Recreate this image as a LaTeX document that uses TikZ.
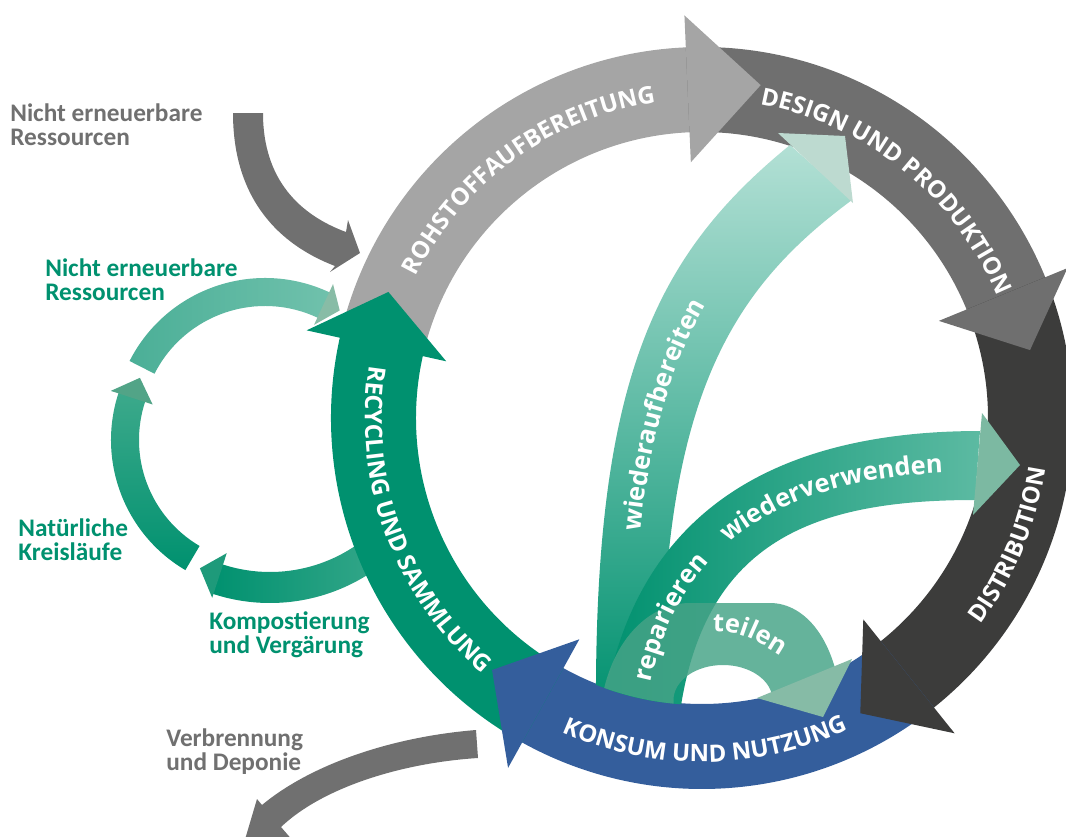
\documentclass[tikz,border=0pt]{standalone}
\usepackage{fontspec}
\setmainfont{Carlito}
\newfontfamily\bandfont{Open Sans}
\usetikzlibrary{calc,decorations.text}

\definecolor{rohC}{HTML}{A5A5A5}
\definecolor{desC}{HTML}{6F6F6F}
\definecolor{disC}{HTML}{3C3C3B}
\definecolor{konC}{HTML}{345E9C}
\definecolor{recC}{HTML}{00916F}
\definecolor{inGray}{HTML}{707070}
\definecolor{labGreen}{HTML}{00916F}
\definecolor{wabLight}{HTML}{B3E0D5}
\definecolor{wabHead}{HTML}{BDDAD0}
\definecolor{wvLight}{HTML}{5CBAA2}
\definecolor{wvHead}{HTML}{7CB9A2}
\definecolor{teilC}{RGB}{70,163,135}
\definecolor{teilHead}{HTML}{86BBA6}
\definecolor{topA}{HTML}{4BAF97}
\definecolor{topB}{HTML}{70C1AC}
\definecolor{topHead}{HTML}{88BCA6}
\definecolor{leftA}{HTML}{3CA98B}
\definecolor{leftHead}{HTML}{52A487}
\definecolor{botA}{HTML}{3AA98C}
\definecolor{botHead}{HTML}{1E9A7A}

\def\rin{286}
\def\rout{371}
% ring band: start angle, end angle, colour
\newcommand\ringband[3]{\fill[#3] ($(C)+(#1:\rin)$) arc[start angle=#1, end angle=#2, radius=\rin] -- ($(C)+(#2:\rout)$) arc[start angle=#2, end angle=#1, radius=\rout] -- cycle;}
% arrow head: base angle, tip angle, inner r, outer r, tip r, colour, centre
\newcommand\arrhead[7]{\fill[#6] ($(#7)+(#1:#3)$) -- ($(#7)+(#2:#5)$) -- ($(#7)+(#1:#4)$) -- cycle;}
% curved text on ring
\newcommand\ringtext[4]{\path[decorate, decoration={text along path, text={|\bandfont\bfseries\fontsize{13.6}{13.6}\selectfont|#4}, text color=white, text align=center}] ($(C)+(#1:#3)$) arc[start angle=#1, end angle=#2, radius=#3];}

\tikzset{
  lab/.style={font=\bfseries\fontsize{14.4}{13.6}\selectfont, align=left, inner sep=0pt, anchor=north west},
  innertxt/.style={decorate, decoration={text along path, text color=white}}
}

\begin{document}
\begin{tikzpicture}[x=0.02cm, y=-0.02cm]
\useasboundingbox (0,0) rectangle (1066,836);
\clip (0,0) rectangle (1066,836);
\coordinate (C) at (702,418);
\coordinate (T) at (265,430);
\coordinate (L) at (262,440);
\coordinate (B) at (270,420);

% ---------- small natural cycle ----------
\shade[left color=recC, right color=botA] ($(B)+(45:152)$) arc[start angle=45, end angle=108.5, radius=152] -- ($(B)+(108.5:183)$) arc[start angle=108.5, end angle=45, radius=183] -- cycle;
\arrhead{108}{115.3}{140}{187}{164}{botHead}{B}
\shade[top color=leftA, bottom color=recC] ($(L)+(120.5:123)$) arc[start angle=120.5, end angle=198.5, radius=123] -- ($(L)+(198.5:151)$) arc[start angle=198.5, end angle=120.5, radius=151] -- cycle;
\arrhead{198}{207}{115}{159}{137}{leftHead}{L}
\shade[left color=topA, right color=topB] ($(T)+(-153:124)$) arc[start angle=-153, end angle=-64.5, radius=124] -- ($(T)+(-64.5:152)$) arc[start angle=-64.5, end angle=-153, radius=152] -- cycle;
\arrhead{-65}{-58}{116}{161}{141}{topHead}{T}

% ---------- grey input / output arrows ----------
\fill[inGray] (233,113) .. controls (233,200) and (280,245) .. (335,266) -- (330,272) -- (360,253) -- (348,220) -- (346,232) .. controls (300,215) and (263,180) .. (263,113) -- cycle;
\fill[inGray] (476,730) .. controls (390,737) and (310,765) .. (262,805) -- (257,799) -- (241,853) -- (294,842) -- (281,827) .. controls (322,788) and (400,763) .. (478,758) -- cycle;

% ---------- main ring bands ----------
\ringband{-167.5}{-92}{rohC}
\ringband{-92.5}{-21.8}{desC}
\ringband{-22.3}{51.8}{disC}
\ringband{51.3}{119.5}{konC}
\ringband{119}{193}{recC}

% ---------- inner arrows ----------
\begin{scope}
\clip (C) circle[radius=287];
\shade[top color=wabLight, bottom color=recC] (596,712) .. controls (594,380) and (655,255) .. (790,145) -- (852,200) .. controls (730,290) and (660,400) .. (662,712) -- cycle;
\shade[left color=recC, right color=wvLight] (603,712) .. controls (635,500) and (790,431) .. (980,431) -- (975,500) .. controls (815,500) and (705,540) .. (680,712) -- cycle;
\fill[teilC, fill opacity=0.83] (600,712) .. controls (608,640) and (650,603) .. (690,603) -- (770,603) .. controls (805,603) and (838,640) .. (842,712) -- (772.5,712) -- (772.5,700) arc[start angle=0, end angle=-180, x radius=49.5, y radius=35] -- (673.5,712) -- cycle;
\end{scope}

% ---------- ring heads ----------
\arrhead{-92.5}{-80}{256}{403}{338}{rohC}{C}
\arrhead{-22.3}{-11.7}{256}{395}{335}{desC}{C}
\arrhead{51.3}{61.8}{258}{404}{335}{disC}{C}
\arrhead{119}{129.8}{253}{400}{328}{konC}{C}
\arrhead{192.5}{201.9}{262}{405}{338}{recC}{C}

% ---------- inner heads ----------
\fill[wabHead] (778,133) -- (845,136) -- (853,203) -- cycle;
\fill[wvHead] (982,413) -- (1020,465) -- (973,515) -- cycle;
\fill[teilHead] (757,698) -- (852,659) -- (823,717) -- cycle;

% ---------- ring texts ----------
\ringtext{-166}{-86}{319}{ROHSTOFFAUFBEREITUNG}
\ringtext{-91}{-11}{319}{DESIGN UND PRODUKTION}
\ringtext{52.5}{-7.5}{347}{DISTRIBUTION}
\ringtext{129.5}{49.5}{344}{KONSUM UND NUTZUNG}
\ringtext{199.8}{119.8}{337}{RECYCLING UND SAMMLUNG}

% ---------- inner texts ----------
\path[innertxt, decoration={text={|\bandfont\bfseries\fontsize{14.5}{14.5}\selectfont|wiederaufbereiten}, text align={left indent=96pt}}] (633,700) .. controls (631,392) and (695,276) .. (823,178);
\path[innertxt, decoration={text={|\bandfont\bfseries\fontsize{14.5}{14.5}\selectfont|reparieren}, text align={left indent=8.5pt}}] (648,697) .. controls (677,527) and (804,472) .. (980,472);
\path[innertxt, decoration={text={|\bandfont\bfseries\fontsize{14.5}{14.5}\selectfont|wiederverwenden}, text align={left indent=101pt}}] (648,697) .. controls (677,527) and (804,472) .. (980,472);
\path[innertxt, decoration={text={|\bandfont\bfseries\fontsize{14.5}{14.5}\selectfont|teilen}, text align=center}] (690,632) .. controls (740,630) .. (800,668);

% ---------- labels ----------
\node[lab, text=inGray] (resGray) at (10,103) {Nicht erneuerbare\\Ressourcen};
\node[lab, text=labGreen] (resGreen) at (45,258) {Nicht erneuerbare\\Ressourcen};
\node[lab, text=labGreen] (natur) at (18,518) {Natürliche\\Kreisläufe};
\node[lab, text=labGreen] (kompost) at (209,611) {Kompostierung\\und Vergärung};
\node[lab, text=inGray] (verbr) at (166,728) {Verbrennung\\und Deponie};
\end{tikzpicture}
\end{document}
